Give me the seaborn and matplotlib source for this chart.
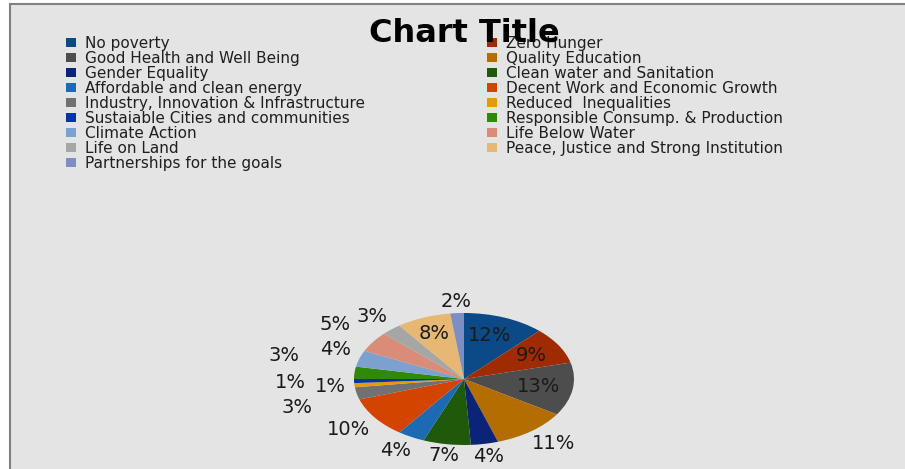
import numpy as np
import matplotlib
matplotlib.use("Agg")
import matplotlib.pyplot as plt
from matplotlib.patches import Patch, Rectangle
import seaborn as sns

# SDG shares (percent), clockwise from 12 o'clock
goals = [
    "No poverty", "Zero Hunger", "Good Health and Well Being", "Quality Education",
    "Gender Equality", "Clean water and Sanitation", "Affordable and clean energy",
    "Decent Work and Economic Growth", "Industry, Innovation & Infrastructure",
    "Reduced  Inequalities", "Sustaiable Cities and communities",
    "Responsible Consump. & Production", "Climate Action", "Life Below Water",
    "Life on Land", "Peace, Justice and Strong Institution", "Partnerships for the goals",
]
shares = [12, 9, 13, 11, 4, 7, 4, 10, 3, 1, 1, 3, 4, 5, 3, 8, 2]
goal_colors = [
    "#0B4A86", "#A02B00", "#4D4D4D", "#B46D00", "#0B2477", "#1F5A0B",
    "#1C6AB4", "#D24400", "#717171", "#E99A00", "#0434A8", "#2F8A0A",
    "#7DA1CF", "#D98C78", "#A6A6A6", "#E6B873", "#7C8EC2",
]

# percent label placement, like Excel's best fit:
# radial distance (1 = pie edge) and a small clockwise nudge in degrees
label_dist = [0.70, 0.71, 0.69, 1.27, 1.19, 1.18, 1.25, 1.30, 1.58,
              1.22, 1.58, 1.68, 1.25, 1.44, 1.26, 0.74, 1.17]
label_nudge = [-2, 0, 0, -2, 0, 0, 1, 0, -3, 0, 0, 7, 3, 1, 0, 0, 0]

sns.set_theme(style="white")
plt.rcParams["font.family"] = ["DejaVu Sans"]
palette = sns.color_palette(goal_colors)

W, H = 905, 469
fig = plt.figure(figsize=(W / 100, H / 100), dpi=100)
fig.patch.set_facecolor("white")
# grey chart area with a border on top and left
fig.patches.append(Rectangle((10 / W, -0.1), 1.2, 1 - 4 / H + 0.1, transform=fig.transFigure,
                             facecolor="#E4E4E4", edgecolor="#7F7F7F", lw=1.5, zorder=-1))

# pie is stretched horizontally in the original
ax = fig.add_axes([354 / W, 24 / H, 220 / W, 132 / H])
wedges, _ = ax.pie(shares, colors=palette, startangle=90, counterclock=False,
                   wedgeprops=dict(linewidth=0))
ax.set_aspect("auto")
ax.set_xlim(-1, 1)
ax.set_ylim(-1, 1)
ax.set_frame_on(False)

for w, v, d, n in zip(wedges, shares, label_dist, label_nudge):
    ang = np.deg2rad((w.theta1 + w.theta2) / 2 - n)
    ax.text(d * np.cos(ang), d * np.sin(ang), f"{v}%", ha="center", va="center",
            fontsize=14, color="#1a1a1a")

handles = [Patch(facecolor=c, edgecolor="none", label=g) for g, c in zip(goals, palette)]
leg_kw = dict(loc="upper left", frameon=False, fontsize=11, handlelength=0.65,
              handleheight=0.46, handletextpad=0.59, labelspacing=0.0, borderpad=0,
              borderaxespad=0, labelcolor="#1f1f1f")
fig.legend(handles=handles[0::2], bbox_to_anchor=(66 / W, 1 - 36 / H), **leg_kw)
fig.legend(handles=handles[1::2], bbox_to_anchor=(487 / W, 1 - 36 / H), **leg_kw)

fig.text(464 / W, 1 - 33 / H, "Chart Title", ha="center", va="center",
         fontsize=23, fontweight="bold", color="black", zorder=10)

fig.savefig("out.png", dpi=100)
